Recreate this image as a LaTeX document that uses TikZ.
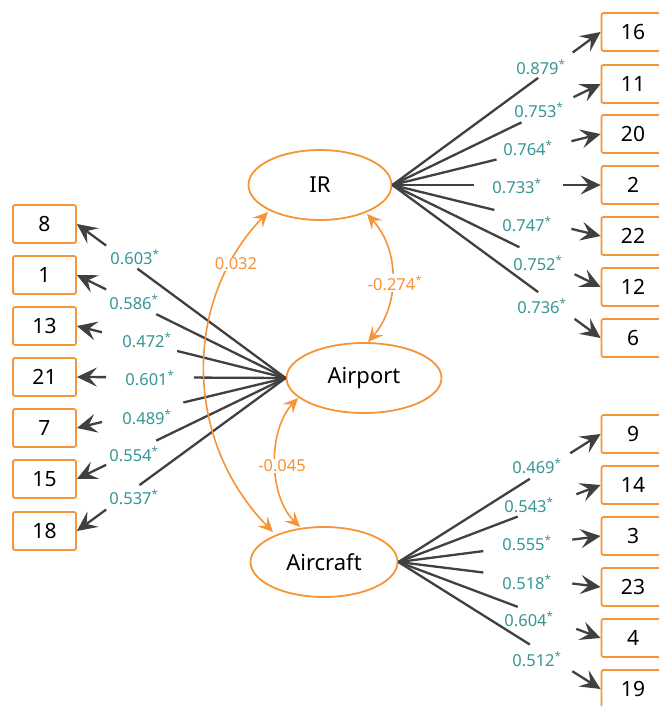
\documentclass[tikz,border=0pt]{standalone}
\usepackage{fontspec}
\setmainfont{Noto Sans}
\usetikzlibrary{arrows.meta,calc,shapes.geometric}
\definecolor{orng}{RGB}{247,148,55}
\definecolor{teal2}{RGB}{58,150,150}
\definecolor{dgray}{RGB}{64,64,64}
\tikzset{
  obs/.style={draw=orng,line width=1.8pt,rounded corners=2pt,minimum width=63pt,minimum height=38pt,inner sep=0pt,font=\fontsize{21}{21}\selectfont,text=black,fill=white},
  lat/.style={draw=orng,line width=1.8pt,ellipse,inner sep=0pt,font=\fontsize{22}{22}\selectfont,text=black},
  ld/.style={draw=dgray,line width=2.3pt},
  la/.style={draw=dgray,line width=2.3pt,-{Stealth[length=20pt,width=19pt,inset=8pt]}},
  lab/.style={text=teal2,font=\fontsize{16.5}{16.5}\selectfont,inner sep=1pt},
  cov/.style={draw=orng,line width=1.6pt,{Stealth[length=15pt,width=14pt,inset=6pt]}-{Stealth[length=15pt,width=14pt,inset=6pt]}},
  clab/.style={text=orng,font=\fontsize{16.5}{16.5}\selectfont,fill=white,inner sep=1pt}
}
\newcommand\loadln[7]{%
  \draw[ld] (#1) -- ($(#1)!#3!(#2)$);
  \draw[la] ($(#1)!#4!(#2)$) -- (#2);
  \node[lab] (#7) at (#5) {#6\textsuperscript{*}};}
\begin{document}
\begin{tikzpicture}[x=1pt,y=-1pt]
\useasboundingbox[fill=white] (0,0) rectangle (658,706);
% latents
\node[lat,minimum width=143pt,minimum height=70pt] (ir) at (320,185) {IR};
\node[lat,minimum width=155pt,minimum height=70pt] (ap) at (364,378) {Airport};
\node[lat,minimum width=147pt,minimum height=70pt] (ac) at (324,562) {Aircraft};
% right IR boxes
\foreach \n/\y in {16/32,11/84,20/134,2/185,22/236,12/287,6/338}
  \node[obs] (b\n) at (633,\y) {\n};
% left boxes
\foreach \n/\y in {8/224,1/275,13/326,21/377,7/428,15/479,18/531}
  \node[obs] (b\n) at (44.5,\y) {\n};
% lower right boxes
\foreach \n/\y in {9/434,14/485,3/536,23/587,4/638,19/689}
  \node[obs] (b\n) at (633,\y) {\n};
% IR loadings
\loadln{ir.east}{b16.west}{0.70}{0.866}{541,67}{0.879}{l16}
\loadln{ir.east}{b11.west}{0.62}{0.87}{539,110}{0.753}{l11}
\loadln{ir.east}{b20.west}{0.50}{0.86}{528,148}{0.764}{l20}
\loadln{ir.east}{b2.west}{0.39}{0.82}{517,186}{0.733}{l2}
\loadln{ir.east}{b22.west}{0.49}{0.86}{527,224}{0.747}{l22}
\loadln{ir.east}{b12.west}{0.61}{0.875}{538,263}{0.752}{l12}
\loadln{ir.east}{b6.west}{0.70}{0.875}{542,306}{0.736}{l6}
% Airport loadings
\loadln{ap.west}{b8.east}{0.71}{0.86}{135,257}{0.603}{l8}
\loadln{ap.west}{b1.east}{0.62}{0.86}{134,302}{0.586}{l1}
\loadln{ap.west}{b13.east}{0.52}{0.88}{147,340}{0.472}{l13}
\loadln{ap.west}{b21.east}{0.44}{0.86}{150,378}{0.601}{l21}
\loadln{ap.west}{b7.east}{0.49}{0.88}{147,417}{0.489}{l7}
\loadln{ap.west}{b15.east}{0.62}{0.86}{134,454}{0.554}{l15}
\loadln{ap.west}{b18.east}{0.70}{0.86}{134,497}{0.537}{l18}
% Aircraft loadings
\loadln{ac.east}{b9.west}{0.65}{0.85}{537,466}{0.469}{l9}
\loadln{ac.east}{b14.west}{0.59}{0.88}{529,505}{0.543}{l14}
\loadln{ac.east}{b3.west}{0.42}{0.86}{527,543}{0.555}{l3}
\loadln{ac.east}{b23.west}{0.42}{0.86}{527,582}{0.518}{l23}
\loadln{ac.east}{b4.west}{0.59}{0.88}{529,619}{0.604}{l4}
\loadln{ac.east}{b19.west}{0.65}{0.86}{537,659}{0.512}{l19}
% covariances
\coordinate (c1a) at (367,214); \coordinate (c1b) at (368,342);
\draw[cov] (c1a) .. controls (400,250) and (400,305) .. (c1b);
\node[clab] (k1) at (395,283) {-0.274\textsuperscript{*}};
\coordinate (c2a) at (298,398); \coordinate (c2b) at (300,527);
\draw[cov] (c2a) .. controls (268,430) and (268,495) .. (c2b);
\node[clab] (k2) at (282,466) {-0.045};
\coordinate (c3a) at (268,212); \coordinate (c3b) at (273,532);
\draw[cov] (c3a) .. controls (183,300) and (183,440) .. (c3b);
\node[clab] (k3) at (236,264) {0.032};
\end{tikzpicture}
\end{document}
